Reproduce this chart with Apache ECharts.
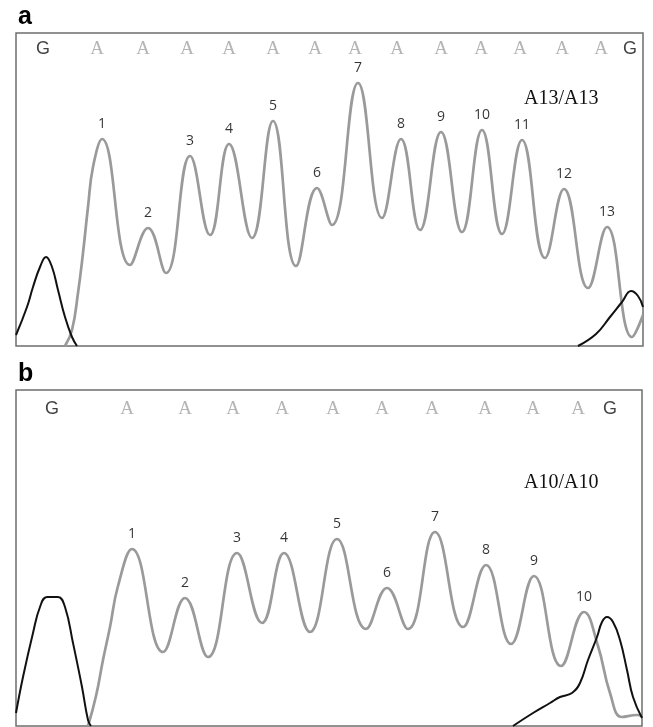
<!DOCTYPE html>
<html>
<head>
<meta charset="utf-8">
<title>A13/A13 - A10/A10 chromatogram</title>
<script src="https://cdn.jsdelivr.net/npm/echarts@6/dist/echarts.min.js"></script>
<style>
html,body{margin:0;padding:0;background:#fff;}
#chartMain{width:653px;height:727px;}
</style>
</head>
<body>
<div id="chartMain"></div>
<script>
// panel a : A13/A13   (x = scan position, y = signal)
var aBases = ['G','A','A','A','A','A','A','A','A','A','A','A','A','A','G'];
var aBaseX = [27, 81, 127, 171, 213, 257, 299, 339, 381, 425, 465, 504, 546, 585, 614];
var aPeaks = [[86,207],[132,118],[174,190],[213,202],[257,225],[301,158],[342,263],[385,207],[425,214],[466,216],[506,206],[548,157],[591,119]];
var aTroughs = [[114,81],[150,73],[194,111],[236,108],[280,80],[316,121],[366,128],[404,116],[446,114],[486,112],[529,88],[572,58],[616,9]];
var aGreyStart = [[49,0],[56,16],[62,53],[67,93],[72,139],[77,179]];
var aGreyEnd = [[627,31]];
var aBlackLeft = [[0,11],[11,39],[17,59],[24,79],[30,89],[36,79],[42,56],[49,29],[56,9],[61,0]];
var aBlackRight = [[562,0],[580,12],[594,29],[606,44],[615,55],[622,50],[627,39]];

// panel b : A10/A10
var bBases = ['G','A','A','A','A','A','A','A','A','A','A','G'];
var bBaseX = [36, 111, 169, 217, 266, 317, 366, 416, 469, 517, 562, 594];
var bPeaks = [[116,177],[169,128],[221,173],[268,173],[321,187],[371,138],[419,194],[470,161],[518,150],[568,114]];
var bTroughs = [[147,74],[192,69],[246,103],[294,94],[350,97],[392,97],[447,99],[495,82],[545,60]];
var bGreyStart = [[72,0],[80,30],[87,66],[94,99],[102,140]];
var bGreyEnd = [[582,80],[594,33],[606,9],[621,11],[626,10]];
var bBlackLeft = [[0,13],[7,49],[17,93],[24,119],[31,129],[42,129],[49,119],[57,83],[66,39],[72,6],[75,0]];
var bBlackRight = [[497,0],[517,13],[534,23],[544,29],[556,33],[564,43],[572,66],[581,89],[586,104],[591,109],[597,104],[604,86],[611,56],[617,29],[626,8]];

var GREY = '#9a9a9a';
var BLACK = '#111';

function buildTrace(start, peaks, troughs, end) {
    var out = start.slice();
    for (var i = 0; i < peaks.length; i++) {
        out.push(peaks[i]);
        if (troughs[i]) out.push(troughs[i]);
    }
    return out.concat(end);
}

function baseData(letters, xs, y) {
    return letters.map(function (c, i) {
        var isA = c === 'A';
        return {
            value: [xs[i], y],
            label: {
                formatter: c,
                color: isA ? '#a3a3a3' : '#111',
                fontFamily: isA ? 'Liberation Serif' : 'Liberation Sans',
                fontSize: isA ? 19 : 18
            }
        };
    });
}

function lineSeries(idx, data, color, width) {
    return {
        type: 'line', xAxisIndex: idx, yAxisIndex: idx,
        data: data, smooth: 0.45, symbol: 'none', silent: true,
        lineStyle: {color: color, width: width}
    };
}

function panelSeries(idx, greyTrace, blackL, blackR, peaks, bases, baseX, baseY) {
    return [
        lineSeries(idx, greyTrace, GREY, 2.7),
        lineSeries(idx, blackL, BLACK, 2),
        lineSeries(idx, blackR, BLACK, 2),
        {
            type: 'scatter', xAxisIndex: idx, yAxisIndex: idx, symbolSize: 0, silent: true,
            data: peaks.map(function (p, i) { return {value: p, name: String(i + 1)}; }),
            label: {show: true, position: 'top', distance: 8, formatter: '{b}',
                color: '#000', fontSize: 14, fontFamily: 'Open Sans'}
        },
        {
            type: 'scatter', xAxisIndex: idx, yAxisIndex: idx, symbolSize: 0, silent: true,
            data: baseData(bases, baseX, baseY),
            label: {show: true, position: 'inside'}
        }
    ];
}

var myChart = echarts.init(document.getElementById('chartMain'));
var option = {
    animation: false,
    backgroundColor: '#fff',
    title: [
        {text: 'a', left: 13, top: 0, textStyle: {fontSize: 25, fontWeight: 'bold', fontFamily: 'Liberation Sans', color: '#000'}},
        {text: 'b', left: 13, top: 357, textStyle: {fontSize: 25, fontWeight: 'bold', fontFamily: 'Liberation Sans', color: '#000'}},
        {text: 'A13/A13', left: 519, top: 84, textStyle: {fontSize: 20, fontWeight: 'normal', fontFamily: 'Liberation Serif', color: '#111'}},
        {text: 'A10/A10', left: 519, top: 468, textStyle: {fontSize: 20, fontWeight: 'normal', fontFamily: 'Liberation Serif', color: '#111'}}
    ],
    grid: [
        {left: 16, top: 33, width: 627, height: 313, show: true, borderColor: '#6e6e6e', borderWidth: 1.5},
        {left: 16, top: 390, width: 626, height: 336, show: true, borderColor: '#6e6e6e', borderWidth: 1.5}
    ],
    xAxis: [
        {type: 'value', gridIndex: 0, min: 0, max: 627, show: false},
        {type: 'value', gridIndex: 1, min: 0, max: 626, show: false}
    ],
    yAxis: [
        {type: 'value', gridIndex: 0, min: 0, max: 313, show: false},
        {type: 'value', gridIndex: 1, min: 0, max: 336, show: false}
    ],
    series: [].concat(
        panelSeries(0, buildTrace(aGreyStart, aPeaks, aTroughs, aGreyEnd), aBlackLeft, aBlackRight, aPeaks, aBases, aBaseX, 297),
        panelSeries(1, buildTrace(bGreyStart, bPeaks, bTroughs, bGreyEnd), bBlackLeft, bBlackRight, bPeaks, bBases, bBaseX, 317)
    )
};
myChart.setOption(option);
</script>
</body>
</html>
